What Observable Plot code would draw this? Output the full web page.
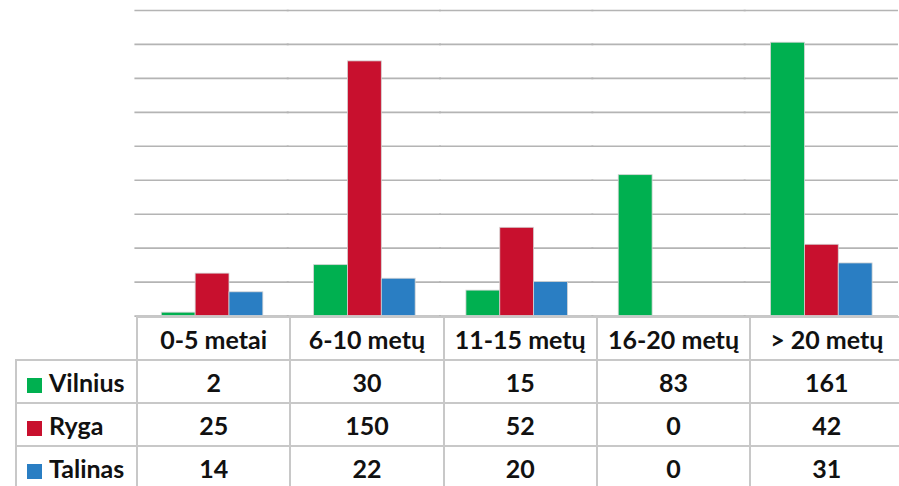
<!DOCTYPE html>
<html>
<head>
<meta charset="utf-8">
<script src="https://cdn.jsdelivr.net/npm/d3@7"></script>
<script src="https://cdn.jsdelivr.net/npm/@observablehq/plot@0.6"></script>
<style>
  html, body { margin: 0; padding: 0; background: #fff; }
  #wrap { position: relative; width: 899px; height: 486px; overflow: hidden; }
  #chart { position: absolute; left: 0; top: 0; }
  table { position: absolute; left: 15px; top: 316px; border-collapse: collapse; table-layout: fixed;
          font-family: Lato, "Open Sans", sans-serif; font-weight: bold; font-size: 25px; color: #111; }
  td { border: 2px solid #c8c8c8; height: 41px; padding: 0; text-align: center; white-space: nowrap; overflow: hidden; }
  td.blank { border-top: none; border-left: none; }
  td.name { text-align: left; padding-left: 10px; }
  .sw { display: inline-block; width: 15px; height: 15px; margin-right: 7px; vertical-align: -1px; }
</style>
</head>
<body>
<div id="wrap">
  <div id="chart"></div>
  <table id="tbl"></table>
</div>
<script>
const categories = ["0-5 metai", "6-10 metų", "11-15 metų", "16-20 metų", "> 20 metų"];
const seriesNames = ["Vilnius", "Ryga", "Talinas"];
const vilnius = [2, 30, 15, 83, 161];
const ryga = [25, 150, 52, 0, 42];
const talinas = [14, 22, 20, 0, 31];
const colors = ["#00b050", "#c8102e", "#2a7ec3"];
const yTicks = [0, 20, 40, 60, 80, 100, 120, 140, 160, 180];

const seriesValues = [vilnius, ryga, talinas];
const data = [];
categories.forEach((c, i) => {
  seriesNames.forEach((s, j) => data.push({category: c, series: s, value: seriesValues[j][i]}));
});

const plot = Plot.plot({
  width: 903,
  height: 318,
  marginTop: 10,
  marginBottom: 1,
  marginLeft: 136,
  marginRight: 1,
  fx: {domain: categories, paddingInner: 0.325, paddingOuter: 0.1625, axis: null},
  x: {domain: seriesNames, padding: 0, axis: null},
  y: {domain: [0, 180], axis: null},
  color: {domain: seriesNames, range: colors},
  marks: [
    Plot.ruleY(yTicks, {stroke: "#b4b4b4", strokeWidth: 1.6, insetLeft: -26, insetRight: -26}),
    Plot.barY(data, {fx: "category", x: "series", y: "value", fill: "series",
      stroke: "#d4d4d4", strokeWidth: 0.8})
  ]
});
document.getElementById("chart").appendChild(plot);

// data table below the chart
const tbl = document.getElementById("tbl");
const colgroup = document.createElement("colgroup");
const widths = [121, 153.3, 153.3, 153.3, 153.3, 153.3];
widths.forEach(w => { const c = document.createElement("col"); c.style.width = w + "px"; colgroup.appendChild(c); });
tbl.appendChild(colgroup);
tbl.style.width = d3.sum(widths) + "px";
const head = document.createElement("tr");
const blank = document.createElement("td"); blank.className = "blank"; head.appendChild(blank);
categories.forEach(c => { const td = document.createElement("td"); td.textContent = c; head.appendChild(td); });
tbl.appendChild(head);
seriesNames.forEach((s, j) => {
  const tr = document.createElement("tr");
  const name = document.createElement("td"); name.className = "name";
  const sw = document.createElement("span"); sw.className = "sw"; sw.style.background = colors[j];
  name.appendChild(sw); name.appendChild(document.createTextNode(s));
  tr.appendChild(name);
  seriesValues[j].forEach(v => { const td = document.createElement("td"); td.textContent = v; tr.appendChild(td); });
  tbl.appendChild(tr);
});
</script>
</body>
</html>
